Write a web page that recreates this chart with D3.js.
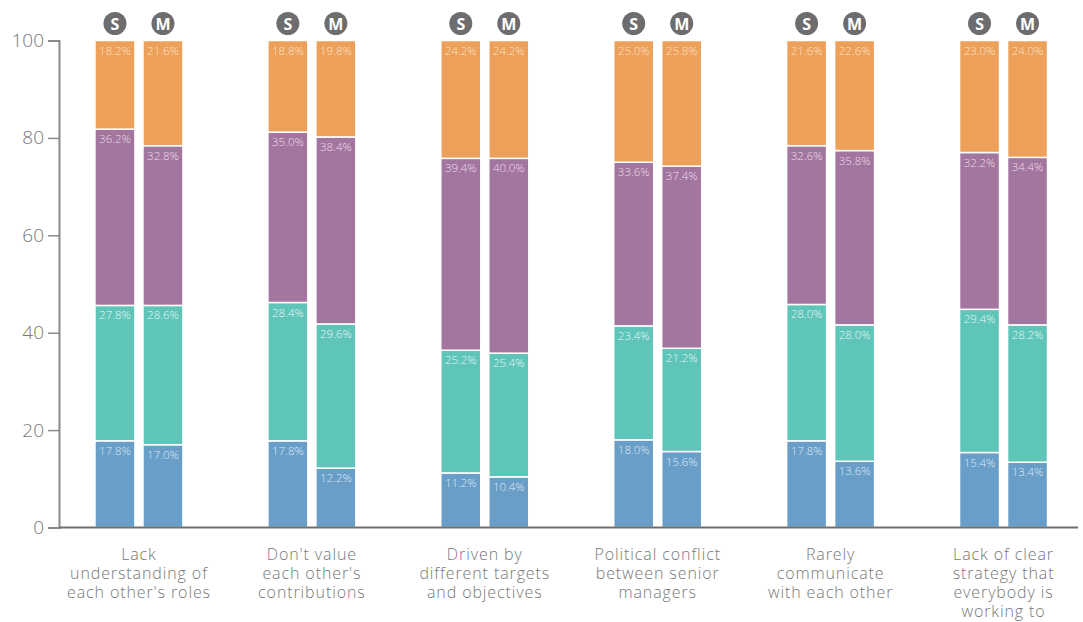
<!DOCTYPE html>
<html>
<head>
<meta charset="utf-8">
<script src="https://cdn.jsdelivr.net/npm/d3@7"></script>
<style>
  html, body { margin: 0; padding: 0; background: #fff; }
  svg { display: block; font-family: "Open Sans", "Lato", sans-serif; }
</style>
</head>
<body>
<svg id="chart" width="1083" height="622"></svg>
<script>
// Reasons for poor collaboration, S vs M respondents (percent shares per answer level)
const categories = [
  ["Lack", "understanding of", "each other's roles"],
  ["Don't value", "each other's", "contributions"],
  ["Driven by", "different targets", "and objectives"],
  ["Political conflict", "between senior", "managers"],
  ["Rarely", "communicate", "with each other"],
  ["Lack of clear", "strategy that", "everybody is", "working to"]
];
const groups = ["S", "M"];
const levels = ["blue", "teal", "purple", "orange"];

// values per level, bottom to top; each pair runs S, M for every category
const blueValues   = [[17.8, 17.0], [17.8, 12.2], [11.2, 10.4], [18.0, 15.6], [17.8, 13.6], [15.4, 13.4]];
const tealValues   = [[27.8, 28.6], [28.4, 29.6], [25.2, 25.4], [23.4, 21.2], [28.0, 28.0], [29.4, 28.2]];
const purpleValues = [[36.2, 32.8], [35.0, 38.4], [39.4, 40.0], [33.6, 37.4], [32.6, 35.8], [32.2, 34.4]];
const orangeValues = [[18.2, 21.6], [18.8, 19.8], [24.2, 24.2], [25.0, 25.8], [21.6, 22.6], [23.0, 24.0]];
const yTicks = [0, 20, 40, 60, 80, 100];

const colors = { blue: "#689ec7", teal: "#5fc5b9", purple: "#a3769f", orange: "#eca05a" };
const labelColors = { blue: "#dfe9f5", teal: "#e6f6f3", purple: "#ecdbe8", orange: "#fce0c6" };

const svg = d3.select("#chart");
const axisX = 59;

const y = d3.scaleLinear().domain([0, 100]).range([527.5, 40.5]);
const x0 = d3.scaleBand().domain(d3.range(categories.length)).range([52.5, 1090]);
const pairWidth = 88;
const x1 = d3.scaleBand().domain(groups).range([0, pairWidth]).paddingInner(1 / 6);

// build stacked rows
const series = { blue: blueValues, teal: tealValues, purple: purpleValues, orange: orangeValues };
const rows = [];
categories.forEach((c, ci) => {
  groups.forEach((g, gi) => {
    const row = { ci, g };
    levels.forEach(l => row[l] = series[l][ci][gi]);
    rows.push(row);
  });
});
const stacked = d3.stack().keys(levels)(rows);

function pairLeft(ci) {
  return x0(ci) + (x0.bandwidth() - pairWidth) / 2;
}
function barX(d) {
  return pairLeft(d.data.ci) + x1(d.data.g);
}

// y axis
const yAxis = svg.append("g")
  .attr("transform", `translate(${axisX},0)`)
  .call(d3.axisLeft(y).tickValues(yTicks).tickSize(11).tickPadding(4));
yAxis.select(".domain").attr("stroke", "#8a8a8a").attr("stroke-width", 2);
yAxis.selectAll(".tick line").attr("stroke", "#8a8a8a").attr("stroke-width", 1.5);
yAxis.selectAll(".tick text")
  .attr("fill", "#777").attr("font-size", 19).attr("font-weight", 300)
  .attr("font-family", "'Open Sans', sans-serif");

// bars with value labels at the top of each segment
const layer = svg.append("g");
stacked.forEach(s => {
  layer.selectAll(null).data(s).enter().append("rect")
    .attr("x", d => barX(d))
    .attr("y", d => y(d[1]))
    .attr("width", x1.bandwidth())
    .attr("height", d => y(d[0]) - y(d[1]))
    .attr("fill", colors[s.key])
    .attr("stroke", "#fff")
    .attr("stroke-width", 1.5);

  layer.selectAll(null).data(s).enter().append("text")
    .attr("x", d => barX(d) + x1.bandwidth() / 2)
    .attr("y", d => y(d[1]) + 14)
    .attr("text-anchor", "middle")
    .attr("font-size", 11.5)
    .attr("font-weight", 300)
    .attr("fill", labelColors[s.key])
    .text(d => (d[1] - d[0]).toFixed(1) + "%");
});

// x baseline
svg.append("line")
  .attr("x1", axisX).attr("x2", 1078)
  .attr("y1", y(0)).attr("y2", y(0))
  .attr("stroke", "#707070").attr("stroke-width", 2);

// S / M badges above every bar
categories.forEach((c, ci) => {
  groups.forEach(g => {
    const cx = pairLeft(ci) + x1(g) + x1.bandwidth() / 2;
    svg.append("circle").attr("cx", cx).attr("cy", 23.5).attr("r", 11.5).attr("fill", "#6d6d6f");
    svg.append("text").attr("x", cx).attr("y", 29.5)
      .attr("text-anchor", "middle").attr("font-size", 16).attr("font-weight", 700)
      .attr("fill", "#fff").text(g);
  });
});

// category labels
categories.forEach((lines, ci) => {
  const cx = x0(ci) + x0.bandwidth() / 2;
  const t = svg.append("text").attr("text-anchor", "middle")
    .attr("font-size", 16).attr("font-weight", 300).attr("fill", "#777")
    .attr("letter-spacing", 0.9);
  lines.forEach((ln, i) => {
    t.append("tspan").attr("x", cx).attr("y", 560 + i * 19).text(ln);
  });
});
</script>
</body>
</html>
